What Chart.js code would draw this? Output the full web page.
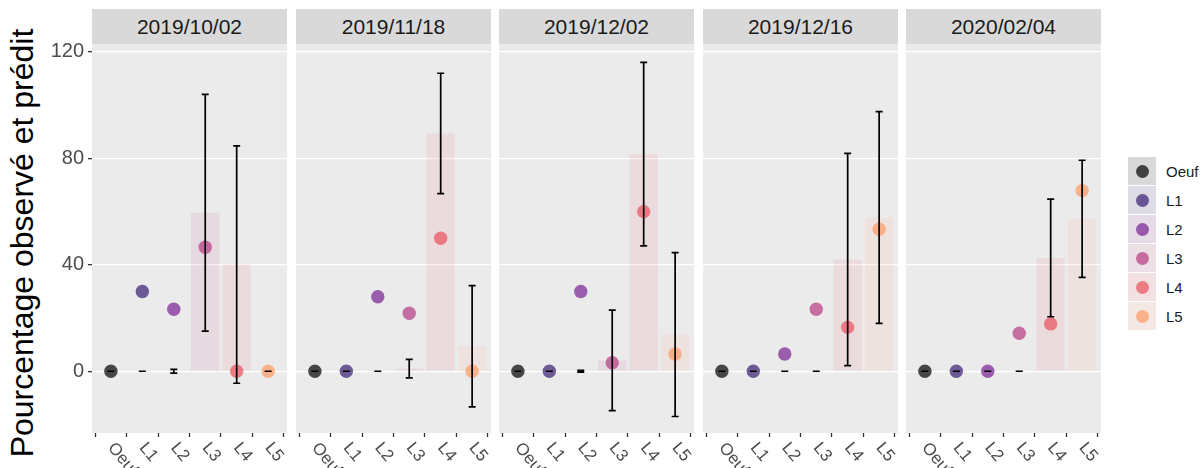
<!doctype html>
<html lang="fr">
<head>
<meta charset="UTF-8" />
<title>Pourcentage observé et prédit</title>
<script src="https://cdn.jsdelivr.net/npm/chart.js"></script>
<style>
  body { margin: 0; background: #fff; font-family: "Liberation Sans", Arial, sans-serif; }
  #wrap { position: relative; width: 1200px; height: 468px; overflow: hidden; }
  canvas { position: absolute; top: 30px; }
  .strip {
    position: absolute; top: 9px; height: 35px; width: 195px;
    background: #d9d9d9; color: #1a1a1a; font-size: 21px;
    line-height: 35px; text-align: center;
  }
  .ytitle {
    position: absolute; left: 22px; top: 243px;
    transform: translate(-50%, -50%) rotate(-90deg);
    font-size: 32px; line-height: 32px; white-space: nowrap; color: #000;
  }
  #legend { position: absolute; left: 1128px; top: 157px; }
  .key { position: relative; height: 29px; }
  .key .box { position: absolute; left: 0; top: 0; width: 28px; height: 28px; background: #f2f2f2; }
  .key .tint { position: absolute; inset: 0; }
  .key .dot { position: absolute; left: 7.5px; top: 7.5px; width: 13.4px; height: 13.4px; border-radius: 50%; }
  .key .lab { position: absolute; left: 38px; top: 0; line-height: 29px; font-size: 15px; color: #1a1a1a; white-space: nowrap; }
</style>
</head>
<body>
<div id="wrap">
  <div class="ytitle">Pourcentage observé et prédit</div>
  <div id="strips"></div>
  <canvas id="p1" width="247" height="438" style="left:40px"></canvas>
  <canvas id="p2" width="195" height="438" style="left:296px"></canvas>
  <canvas id="p3" width="195" height="438" style="left:499px"></canvas>
  <canvas id="p4" width="195" height="438" style="left:703px"></canvas>
  <canvas id="p5" width="195" height="438" style="left:906px"></canvas>
  <div id="legend"></div>
</div>

<script>
  const stades = ['Oeuf', 'L1', 'L2', 'L3', 'L4', 'L5'];
  const dates = ['2019/10/02', '2019/11/18', '2019/12/02', '2019/12/16', '2020/02/04'];
  const stadeColors = ['0,0,4', '52,28,112', '120,32,145', '183,56,129', '233,80,92', '255,152,99'];
  const yTicks = [0, 40, 80, 120];

  // observé (points), prédit (barres) et demi-intervalle de l'erreur
  const obs_1002 = [0, 30, 23.3, 46.6, 0, 0];
  const pred_1002 = [0, 0, 0, 59.6, 40.1, 0];
  const err_1002 = [0, 0, 0.7, 44.5, 44.6, 0];

  const obs_1118 = [0, 0, 28, 21.8, 50, 0];
  const pred_1118 = [0, 0, 0, 1.0, 89.4, 9.4];
  const err_1118 = [0, 0, 0, 3.5, 22.6, 22.8];

  const obs_1202 = [0, 0, 30, 3.2, 60, 6.5];
  const pred_1202 = [0, 0, 0, 4.1, 81.6, 13.8];
  const err_1202 = [0, 0, 0.3, 18.9, 34.5, 30.8];

  const obs_1216 = [0, 0, 6.5, 23.3, 16.5, 53.4];
  const pred_1216 = [0, 0, 0, 0, 42.0, 57.8];
  const err_1216 = [0, 0, 0, 0, 39.9, 39.8];

  const obs_0204 = [0, 0, 0, 14.3, 17.8, 67.9];
  const pred_0204 = [0, 0, 0, 0, 42.6, 57.3];
  const err_0204 = [0, 0, 0, 0, 22.1, 22.0];

  const FONT = '"Liberation Sans", Arial, sans-serif';
  Chart.defaults.font.family = FONT;

  // fond gris du panneau
  const panelBg = {
    id: 'panelBg',
    beforeDraw(chart) {
      const { ctx, chartArea: a } = chart;
      ctx.save();
      ctx.fillStyle = '#ebebeb';
      ctx.fillRect(a.left, a.top, a.right - a.left, a.bottom - a.top);
      ctx.restore();
    },
  };

  // barres d'erreur autour de la valeur prédite
  const errorBars = {
    id: 'errorBars',
    afterDatasetsDraw(chart) {
      const ds = chart.data.datasets.find((d) => d.errors);
      if (!ds) return;
      const { ctx, scales: { x, y } } = chart;
      ctx.save();
      ctx.strokeStyle = '#000';
      ctx.lineWidth = 1.7;
      ds.data.forEach((pt, i) => {
        const e = ds.errors[i];
        const px = x.getPixelForValue(pt.x);
        const top = y.getPixelForValue(pt.y + e);
        const bot = y.getPixelForValue(pt.y - e);
        ctx.beginPath();
        ctx.moveTo(px, top); ctx.lineTo(px, bot);
        ctx.moveTo(px - 3.5, top); ctx.lineTo(px + 3.5, top);
        ctx.moveTo(px - 3.5, bot); ctx.lineTo(px + 3.5, bot);
        ctx.stroke();
      });
      ctx.restore();
    },
  };

  // étiquettes des stades, inclinées vers le bas
  const xLabels = {
    id: 'xLabels',
    afterDraw(chart) {
      const { ctx, scales: { x } } = chart;
      ctx.save();
      ctx.fillStyle = '#4d4d4d';
      ctx.font = '17px ' + FONT;
      ctx.textAlign = 'left';
      ctx.textBaseline = 'middle';
      stades.forEach((s, i) => {
        ctx.save();
        ctx.translate(x.getPixelForValue(i + 1), x.top + 12);
        ctx.rotate((50 * Math.PI) / 180);
        ctx.fillText(s, 0, 0);
        ctx.restore();
      });
      ctx.restore();
    },
  };

  function buildPanel(canvasId, obs, pred, err, withYAxis) {
    const pts = (vals) => vals.map((v, i) => ({ x: i + 1, y: v }));
    return new Chart(document.getElementById(canvasId), {
      type: 'bar',
      data: {
        datasets: [
          {
            type: 'scatter',
            label: 'Observé',
            data: pts(obs),
            pointBackgroundColor: stadeColors.map((c) => `rgba(${c},0.7)`),
            pointBorderWidth: 0,
            pointRadius: 6.7,
            order: 0,
          },
          {
            type: 'bar',
            label: 'Prédit',
            data: pts(pred),
            errors: err,
            backgroundColor: stadeColors.map((c) => `rgba(${c},0.1)`),
            borderWidth: 0,
            barPercentage: 0.9,
            categoryPercentage: 1,
            order: 1,
          },
        ],
      },
      options: {
        responsive: false,
        animation: false,
        events: [],
        layout: { autoPadding: false, padding: { top: 14, left: 0, right: 0, bottom: 0 } },
        plugins: { legend: { display: false }, tooltip: { enabled: false } },
        scales: {
          x: {
            type: 'linear',
            min: 0.4,
            max: 6.6,
            offset: false,
            afterBuildTicks: (s) => { s.ticks = stades.map((_, i) => ({ value: i + 1 })); },
            ticks: { display: false },
            grid: { drawOnChartArea: false, drawTicks: true, tickLength: 4, tickColor: '#333333', tickWidth: 1.3 },
            border: { display: false },
            afterFit: (s) => { s.height = 35; s.paddingLeft = 0; s.paddingRight = 0; },
          },
          y: {
            min: -23.2,
            max: 123,
            afterBuildTicks: (s) => { s.ticks = yTicks.map((v) => ({ value: v })); },
            ticks: { display: withYAxis, font: { size: 20 }, color: '#4d4d4d', padding: 4 },
            grid: { color: '#ffffff', lineWidth: 1.3, drawTicks: withYAxis, tickLength: 4, tickColor: '#333333', tickWidth: 1.3 },
            border: { display: false },
            afterFit: (s) => { s.width = withYAxis ? 52 : 0; s.paddingTop = 0; s.paddingBottom = 0; },
          },
        },
      },
      plugins: [panelBg, errorBars, xLabels],
    });
  }

  buildPanel('p1', obs_1002, pred_1002, err_1002, true);
  buildPanel('p2', obs_1118, pred_1118, err_1118, false);
  buildPanel('p3', obs_1202, pred_1202, err_1202, false);
  buildPanel('p4', obs_1216, pred_1216, err_1216, false);
  buildPanel('p5', obs_0204, pred_0204, err_0204, false);

  // bandeaux de dates
  const stripLefts = [92, 296, 499, 703, 906];
  const strips = document.getElementById('strips');
  dates.forEach((d, i) => {
    const div = document.createElement('div');
    div.className = 'strip';
    div.style.left = stripLefts[i] + 'px';
    div.textContent = d;
    strips.appendChild(div);
  });

  // légende des stades
  const legend = document.getElementById('legend');
  stades.forEach((s, i) => {
    const key = document.createElement('div');
    key.className = 'key';
    key.innerHTML =
      `<div class="box"><div class="tint" style="background:rgba(${stadeColors[i]},0.1)"></div>` +
      `<div class="dot" style="background:rgba(${stadeColors[i]},0.7)"></div></div>` +
      `<div class="lab">${s}</div>`;
    legend.appendChild(key);
  });
</script>
</body>
</html>
